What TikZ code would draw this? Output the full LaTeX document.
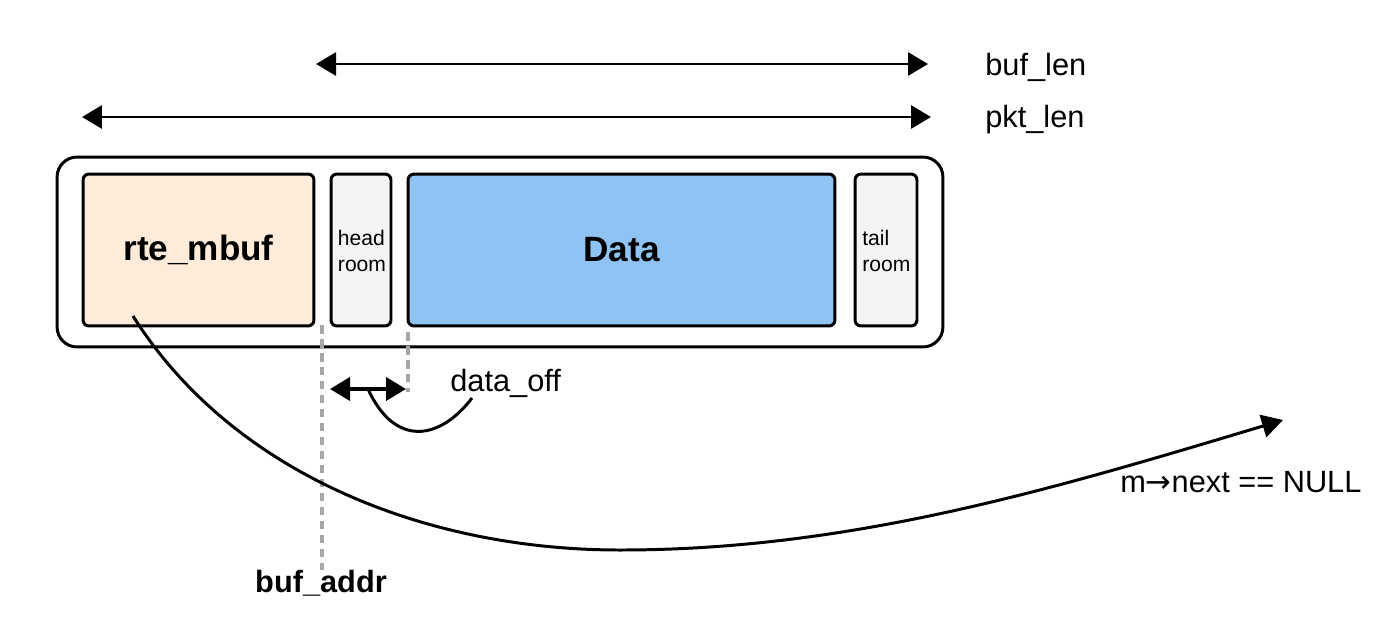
\documentclass[tikz,border=0pt]{standalone}
\usepackage{fontspec}
\setmainfont{Liberation Sans}
\newfontfamily\arrowfont{DejaVu Sans}
\usetikzlibrary{arrows.meta}
\definecolor{peach}{HTML}{FFEBD9}
\definecolor{datablue}{HTML}{8EC3F4}
\definecolor{roomgray}{HTML}{F4F4F4}
\definecolor{dashgray}{HTML}{A6A6A6}
\tikzset{
  blk/.style={draw=black, line width=1.7pt, rounded corners=0.12cm, inner sep=0pt, minimum height=3.04cm},
  lbl/.style={font=\fontsize{17.5}{21}\selectfont, inner sep=0pt},
  roomtxt/.style={font=\fontsize{12}{14.5}\selectfont, inner sep=0pt},
  dimarrow/.style={line width=1.7pt, {Triangle[length=0.4cm,width=0.46cm]}-{Triangle[length=0.4cm,width=0.46cm]}},
  guide/.style={draw=dashgray, line width=2.2pt, dash pattern=on 0.17cm off 0.11cm},
}
\begin{document}
\begin{tikzpicture}[x=0.02cm,y=-0.02cm]
\useasboundingbox (0,0) rectangle (1396,616);
% outer buffer
\node[draw=black, line width=1.7pt, rounded corners=0.4cm, minimum width=17.72cm, minimum height=3.8cm, inner sep=0pt] (outer) at (500,252) {};
\node[blk, fill=peach, minimum width=4.62cm, font=\fontsize{20}{24}\selectfont\bfseries] (mbuf) at (198.5,250) {rte\_mbuf};
\node[blk, fill=roomgray, minimum width=1.2cm] (head) at (361,250) {};
\node[roomtxt, align=left] (headtxt) at (362,251) {head\\room};
\node[blk, fill=datablue, minimum width=8.54cm, font=\fontsize{20}{24}\selectfont\bfseries] (data) at (621.5,250) {Data};
\node[blk, fill=roomgray, minimum width=1.24cm] (tail) at (886,250) {};
\node[roomtxt, align=left, anchor=west] (tailtxt) at (862,251) {tail\\room};
% length arrows
\coordinate (bufL) at (316,64);
\coordinate (bufR) at (928,64);
\coordinate (pktL) at (82,117);
\coordinate (pktR) at (931,117);
\draw[dimarrow] (bufL) -- (bufR);
\draw[dimarrow] (pktL) -- (pktR);
\node[lbl, anchor=base west] (buflen) at (985,75) {buf\_len};
\node[lbl, anchor=base west] (pktlen) at (985,127) {pkt\_len};
% guides
\coordinate (g1top) at (322,325);
\coordinate (g1bot) at (322,570);
\coordinate (g2top) at (408,332);
\coordinate (g2bot) at (408,392);
\draw[guide] (g1top) -- (g1bot);
\draw[guide] (g2top) -- (g2bot);
% data_off
\coordinate (offL) at (330,389);
\coordinate (offR) at (406,389);
\draw[dimarrow, line width=2.2pt] (offL) -- (offR);
\node[lbl, anchor=base west] (dataoff) at (450,391) {data\_off};
\coordinate (offS) at (368,389);
\coordinate (offE) at (472,398);
\draw[line width=1.7pt] (offS) .. controls (395,448) and (440,440) .. (offE);
% next pointer
\coordinate (nextS) at (133,316);
\coordinate (nextM) at (620,550);
\coordinate (nextE) at (1283,420);
\draw[line width=1.7pt, -{Triangle[length=0.42cm,width=0.46cm]}] (nextS) .. controls (230,470) and (420,550) .. (nextM) .. controls (850,550) and (1050,490) .. (nextE);
\node[lbl, anchor=base west] (nextlbl) at (1120,492) {m{\arrowfont →}next == NULL};
\node[lbl, font=\fontsize{17.5}{21}\selectfont\bfseries, anchor=base] (bufaddr) at (321,592) {buf\_addr};
\end{tikzpicture}
\end{document}
